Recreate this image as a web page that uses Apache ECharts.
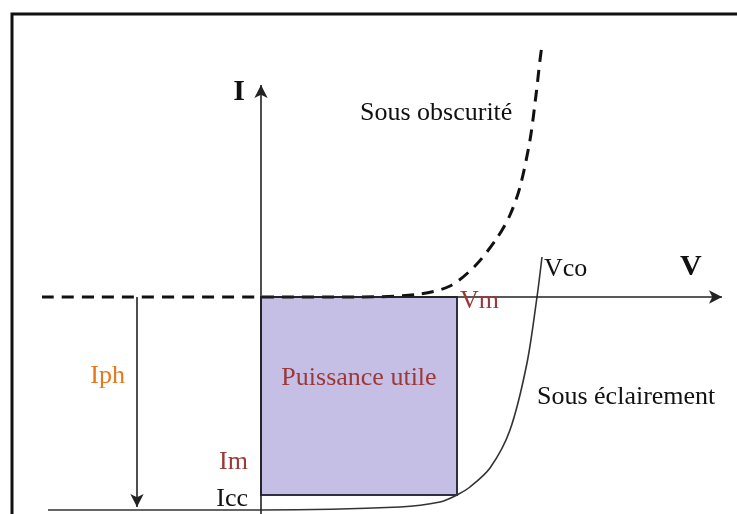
<!DOCTYPE html>
<html>
<head>
<meta charset="utf-8">
<script src="https://cdn.jsdelivr.net/npm/echarts@6/dist/echarts.min.js"></script>
<style>html,body{margin:0;padding:0;background:#fff}#c{width:737px;height:514px}</style>
</head>
<body>
<div id="c"></div>
<script>
// Diagram units (V, I), origin at the axes crossing
var darkV = [-21.9, 0, 10, 15.9, 18.9, 21.4, 23.6, 24.9, 25.9, 26.9, 27.5, 27.9, 28.1];
var darkI = [0, 0, 0, 0.3, 1.1, 3.1, 5.9, 8.2, 11, 15.7, 20.2, 23.7, 25.2];
var lightV = [-21.3, 0, 13.9, 17.9, 19.6, 20.9, 22.9, 24.9, 26.6, 27.6, 28.1];
var lightI = [-21.3, -21.3, -21, -20.5, -19.8, -19, -17.1, -13.3, -6.6, 0, 4];
var Vm = 19.6, Im = -19.8, Vco = 27.6, Icc = -21.3;
var Vmax = 46.1, Imax = 21.2, Ibottom = -21.7;
var IphV = -12.4, IphEnd = -21.0;

var serif = '"Liberation Serif","Times New Roman",serif';
var brown = '#9b3838', orange = '#e8781a';

function zip(a, b) { return a.map(function (v, i) { return [v, b[i]]; }); }

var chart = echarts.init(document.getElementById('c'), null, {renderer: 'canvas'});
chart.setOption({
  animation: false,
  backgroundColor: '#fff',
  grid: {left: 0, right: 0, top: 0, bottom: 0},
  xAxis: {type: 'value', min: -26.1, max: 47.6, show: false},
  yAxis: {type: 'value', min: -21.7, max: 29.7, show: false},
  series: [
    {
      type: 'line', data: [], silent: true,
      markArea: {
        silent: true,
        itemStyle: {color: '#c5bfe6', borderColor: '#2e2e44', borderWidth: 2},
        data: [[{coord: [0, 0]}, {coord: [Vm, Im]}]]
      },
      markLine: {
        silent: true, symbol: ['none', 'arrow'], symbolSize: [10, 13],
        label: {show: false},
        lineStyle: {color: '#222', width: 1.6, type: 'solid'},
        data: [
          [{coord: [0, 0]}, {coord: [Vmax, 0]}],
          [{coord: [0, Ibottom]}, {coord: [0, Imax]}],
          [{coord: [IphV, 0]}, {coord: [IphV, IphEnd]}]
        ]
      }
    },
    {
      type: 'line', data: zip(lightV, lightI), showSymbol: false, silent: true,
      smooth: 0.3,
      lineStyle: {color: '#333', width: 1.6}
    },
    {
      type: 'line', data: zip(darkV, darkI), showSymbol: false, silent: true,
      smooth: 0.3,
      lineStyle: {color: '#111', width: 3, type: [12, 8]}
    }
  ]
});

function px(v, i) { return chart.convertToPixel({gridIndex: 0}, [v, i]); }
function txt(x, y, s, opt) {
  return {
    type: 'text', x: x, y: y, silent: true, z: 100,
    style: Object.assign({text: s, font: '26px ' + serif, fill: '#111', textAlign: 'left', textVerticalAlign: 'middle'}, opt || {})
  };
}
var o = px(0, 0), pVm = px(Vm, 0), pIm = px(0, Im), pIcc = px(0, Icc), pVco = px(Vco, 0), pIph = px(IphV, (0 + IphEnd) / 2);
var pRect = px(Vm / 2, Im / 2);
chart.setOption({
  graphic: [
    {type: 'rect', silent: true, shape: {x: 12, y: 14, width: 760, height: 540}, style: {fill: 'none', stroke: '#111', lineWidth: 3}},
    txt(o[0] - 22, 92.5, 'I', {font: 'bold 30px ' + serif, textAlign: 'center'}),
    txt(pVm[0] + 3, pVm[1] + 4, 'Vm', {fill: brown}),
    txt(pVco[0] + 7, pVco[1] - 28, 'Vco'),
    txt(680, 267, 'V', {font: 'bold 30px ' + serif}),
    txt(360, 113.5, 'Sous obscurit\u00e9'),
    txt(537, 397, 'Sous \u00e9clairement'),
    txt(pRect[0], pRect[1] - 18, 'Puissance utile', {fill: brown, textAlign: 'center'}),
    txt(pIph[0] - 12, pIph[1] - 26, 'Iph', {fill: orange, textAlign: 'right'}),
    txt(o[0] - 13, pIm[1] - 33, 'Im', {fill: brown, textAlign: 'right'}),
    txt(o[0] - 13, pIcc[1] - 11, 'Icc', {textAlign: 'right'})
  ]
});
</script>
</body>
</html>
